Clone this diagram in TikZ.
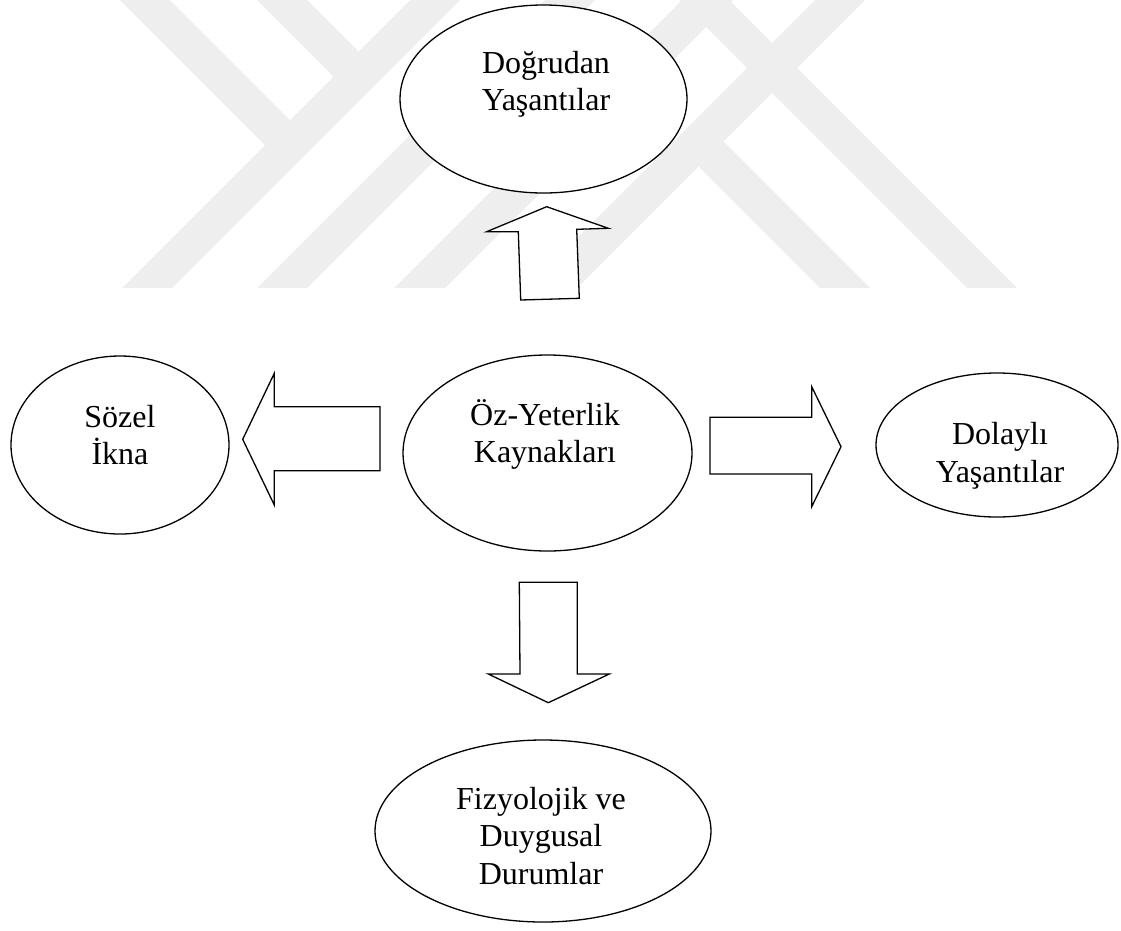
\documentclass[tikz,border=0pt]{standalone}
\usepackage{fontspec}
\setmainfont{Liberation Serif}
\usetikzlibrary{shapes.geometric}
\definecolor{wm}{RGB}{238,238,238}
\begin{document}
\begin{tikzpicture}[x=1pt,y=-1pt,
  bubble/.style={draw=black, line width=1.3pt, fill=white, ellipse, inner sep=0pt},
  blockarrow/.style={draw=black, line width=1.3pt, fill=white, line join=miter},
  lbl/.style={align=center, font=\fontsize{32}{37.5}\selectfont, inner sep=0pt},
  band/.style={fill=wm, draw=none}]
\useasboundingbox (0,0) rectangle (1121,930);
% watermark
\fill[band] (410,0) -- (460,0) -- (172,288) -- (122,288) -- cycle;
\fill[band] (545,0) -- (595,0) -- (307,288) -- (257,288) -- cycle;
\fill[band] (682,0) -- (733,0) -- (445,288) -- (394,288) -- cycle;
\fill[band] (815,0) -- (865,0) -- (577,288) -- (527,288) -- cycle;
\fill[band] (679,0) -- (729,0) -- (1017,288) -- (967,288) -- cycle;
\fill[band] (120,0) -- (170,0) -- (290,120) -- (265,145) -- cycle;
\fill[band] (257,0) -- (307,0) -- (358.5,51.5) -- (333.5,76.5) -- cycle;
\fill[band] (820,288) -- (870,288) -- (723.5,141.5) -- (698.5,166.5) -- cycle;
% ellipses
\node[bubble, minimum width=287pt, minimum height=188pt] (dog) at (543.5,99) {};
\node[lbl] (dogt) at (546,84.5) {Doğrudan\\Yaşantılar};
\node[bubble, minimum width=289pt, minimum height=196pt] (oz) at (547.5,453) {};
\node[lbl] (ozt) at (545,434.5) {Öz-Yeterlik\\Kaynakları};
\node[bubble, minimum width=218pt, minimum height=178pt] (soz) at (120,445) {};
\node[lbl] (sozt) at (120,435) {Sözel\\İkna};
\node[bubble, minimum width=242pt, minimum height=144pt] (dol) at (997,445) {};
\node[lbl] (dolt) at (1000,456) {Dolaylı\\Yaşantılar};
\node[bubble, minimum width=336pt, minimum height=182pt] (fiz) at (543,831) {};
\node[lbl] (fizt) at (541,836) {Fizyolojik ve\\Duygusal\\Durumlar};
% block arrows
\draw[blockarrow] (546.7,206.7) -- (608.3,228.3) -- (576.7,229.3) -- (579.3,298.3) -- (520.7,300) -- (518.3,231.7) -- (486.7,231.7) -- cycle;
\draw[blockarrow] (242.7,439.3) -- (274.3,373.3) -- (274.3,406.7) -- (380,406.7) -- (380,470.7) -- (274.3,470.7) -- (274.3,505) -- cycle;
\draw[blockarrow] (841,446.7) -- (811.7,386.7) -- (811.7,417.3) -- (710,417.3) -- (710,474) -- (811.7,474) -- (811.7,506.7) -- cycle;
\draw[blockarrow] (548.3,702.7) -- (488.3,674) -- (520,674) -- (519.3,582.3) -- (577.3,582.3) -- (577.3,674) -- (609.3,674) -- cycle;
\end{tikzpicture}
\end{document}
